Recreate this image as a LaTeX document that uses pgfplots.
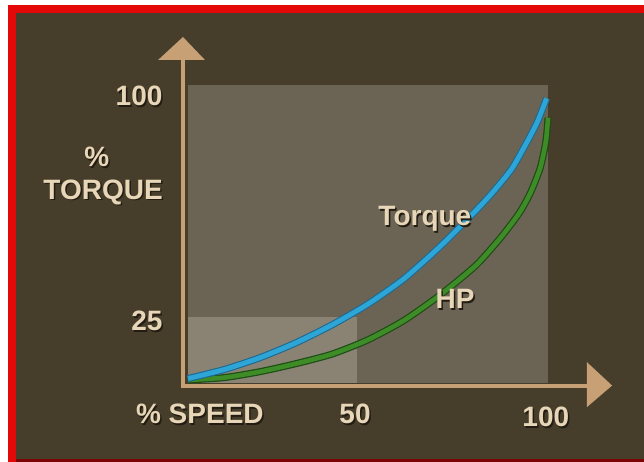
\documentclass[border=0pt]{standalone}
\usepackage{pgfplots}
\pgfplotsset{compat=1.18}
\usepackage{fontspec}
\setmainfont{Liberation Sans}
\definecolor{bg}{RGB}{70,62,43}
\definecolor{panel}{RGB}{107,100,84}
\definecolor{panellight}{RGB}{138,131,115}
\definecolor{axiscol}{RGB}{200,160,118}
\definecolor{txt}{RGB}{232,214,184}
\definecolor{shadowc}{RGB}{35,28,18}
\definecolor{bordred}{RGB}{228,8,8}
\definecolor{tqblue}{RGB}{45,165,215}
\definecolor{tqblueedge}{RGB}{30,105,145}
\definecolor{hpgreen}{RGB}{62,140,40}
\definecolor{hpgreenedge}{RGB}{30,75,20}
\newcommand\sh[1]{\makebox[0pt][l]{\raisebox{-1.5pt}{\hspace{1.5pt}\textcolor{shadowc}{#1}}}\textcolor{txt}{#1}}
\tikzset{lab/.style={font=\fontsize{28}{30}\selectfont\bfseries, inner sep=0pt}}
\pgfplotstableread{
x y
0 1.5
10 4.5
20 8.5
30 13.5
40 19.5
50 26.5
60 35
70 45.8
80 57.9
85 64.5
90 72
94 80.5
97 87.5
99.6 95.5
}\torque
\pgfplotstableread{
x y
0 1
10 1.8
20 3.8
30 6.5
40 9.7
50 14.5
60 21
70 29.5
80 39.5
87 49
92 57
95 63.5
97.8 72
99.4 81
100 89
}\hp
\begin{document}
\begin{tikzpicture}[x=1pt,y=1pt]
\fill[white] (0,0) rectangle (644,462);
\fill[bordred] (8,0) rectangle (644,457);
\fill[bg] (16,3) rectangle (644,449);
\fill[bordred!55!black] (16,0) rectangle (644,3);
\begin{axis}[at={(188pt,79pt)},anchor=south west,
  width=360pt,height=298pt,scale only axis,
  xmin=0,xmax=100,ymin=0,ymax=100,clip=false,hide axis]
\fill[panel] (axis cs:0,0) rectangle (axis cs:100,100);
\fill[panellight] (axis cs:0,0) rectangle (axis cs:47,22);
\draw[axiscol, line width=4pt] (axis cs:-1.4,-1.5) -- (axis cs:-1.4,109);
\draw[axiscol, line width=4pt] (axis cs:-1.9,-0.85) -- (axis cs:111,-0.85);
\fill[axiscol] (axis cs:-8.3,108.4) -- (axis cs:-1.4,116.1) -- (axis cs:4.7,108.4) -- cycle;
\fill[axiscol] (axis cs:110.8,7.0) -- (axis cs:117.8,-0.85) -- (axis cs:110.8,-8.1) -- cycle;
% HP curve
\addplot[hpgreenedge, line width=7pt, smooth, tension=0.4] table {\hp};
\addplot[hpgreen, line width=4.6pt, smooth, tension=0.4] table {\hp};
% Torque curve
\addplot[tqblueedge, line width=7pt, smooth, tension=0.4] table {\torque};
\addplot[tqblue, line width=4.8pt, smooth, tension=0.4] table {\torque};
% labels
\node[lab] at (axis cs:-13.6,96.0) {\sh{100}};
\node[lab] at (axis cs:-25.3,75.5) {\sh{\%}};
\node[lab] at (axis cs:-23.6,63.8) {\sh{TORQUE}};
\node[lab] at (axis cs:-11.4,20.5) {\sh{25}};
\node[lab] at (axis cs:3.3,-10.7) {\sh{\% SPEED}};
\node[lab] at (axis cs:46.4,-10.7) {\sh{50}};
\node[lab] at (axis cs:99.4,-11.7) {\sh{100}};
\node[lab] at (axis cs:65.8,54.7) {\sh{Torque}};
\node[lab] at (axis cs:74.2,27.9) {\sh{HP}};
\end{axis}
\end{tikzpicture}
\end{document}
